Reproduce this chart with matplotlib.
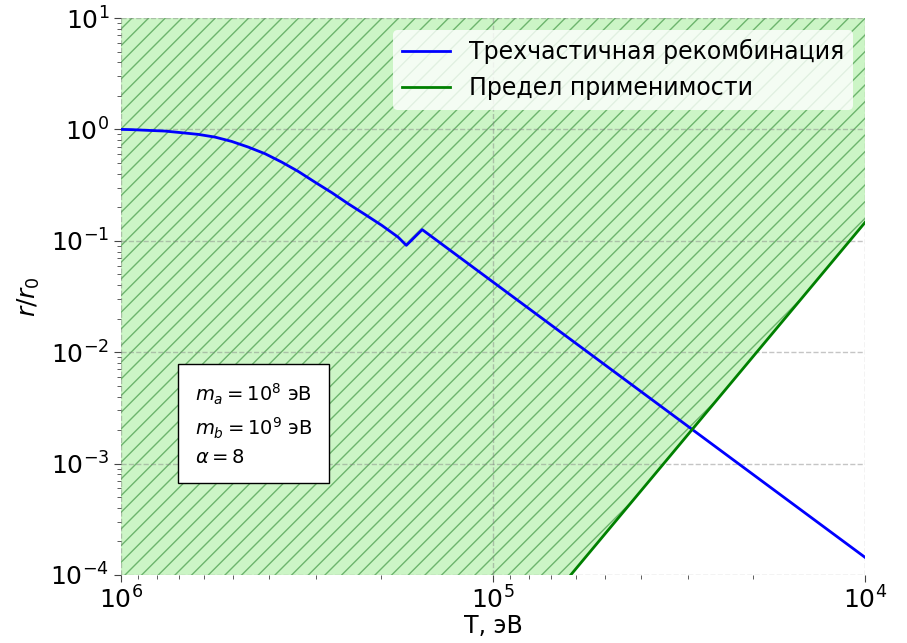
import numpy as np
import matplotlib
matplotlib.use('Agg')
import matplotlib.pyplot as plt

# three-body recombination radius vs temperature
T_rec = [1e6, 9.36e5, 8.45e5, 7.62e5, 6.87e5, 6.20e5, 5.59e5, 5.04e5, 4.55e5, 4.10e5,
         3.70e5, 3.34e5, 3.01e5, 2.71e5, 2.45e5, 2.21e5, 1.99e5, 1.80e5, 1.71e5, 1.55e5, 1e4]
r_rec = [1.0, 0.995, 0.98, 0.966, 0.934, 0.902, 0.853, 0.78, 0.694, 0.605,
         0.509, 0.42, 0.336, 0.270, 0.215, 0.1726, 0.1375, 0.108, 0.091, 0.126, 1.44e-4]

# applicability limit (straight line in log-log)
T_lim = [1e6, 1e4]
r_lim = [1.46e-9, 0.146]

y_top = 10

fig = plt.figure(figsize=(9.07, 6.43), dpi=100)
ax = fig.add_axes([0.1334, 0.1058, 0.8203, 0.8662])

ax.fill_between(T_lim, r_lim, y_top, facecolor='#ccf5c6', edgecolor='#6db56d',
                hatch='//', linewidth=0, zorder=1)
ax.plot(T_rec, r_rec, color='blue', lw=2, label='Трехчастичная рекомбинация', zorder=3)
ax.plot(T_lim, r_lim, color='green', lw=2, label='Предел применимости', zorder=3)

ax.set_xscale('log')
ax.set_yscale('log')
ax.set_xlim(1e6, 1e4)
ax.set_ylim(1e-4, 10)

for s in ax.spines.values():
    s.set_visible(False)
ax.grid(True, which='major', ls='--', color='gray', alpha=0.45, lw=1, zorder=2)
ax.set_axisbelow(False)
ax.tick_params(which='major', labelsize=18, length=5, color='#444444')
ax.tick_params(which='minor', length=3, color='#444444')

ax.set_xlabel('T, эВ', fontsize=17, labelpad=0)
ax.set_ylabel(r'$r/r_0$', fontsize=18, labelpad=6)

leg = ax.legend(loc='upper right', fontsize=17, borderaxespad=0.5)
leg.get_frame().set_edgecolor('none')

ax.text(0.0995, 0.194,
        '$m_a = 10^{8}$ эВ\n$m_b = 10^{9}$ эВ\n$\\alpha = 8$',
        transform=ax.transAxes, fontsize=14, va='bottom', ha='left',
        linespacing=1.45, zorder=4,
        bbox=dict(boxstyle='square,pad=0.85', facecolor='white', edgecolor='black'))

fig.savefig('out.png', dpi=100)
